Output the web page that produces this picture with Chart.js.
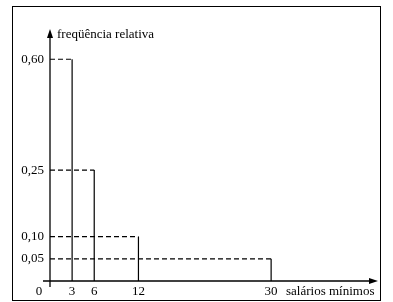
<!DOCTYPE html>
<html>
<head>
<meta charset="utf-8">
<script src="https://cdn.jsdelivr.net/npm/chart.js@4/dist/chart.umd.min.js"></script>
<style>
    html, body { margin: 0; padding: 0; background: #fff; }
    #wrap { position: relative; width: 393px; height: 302px; }
    #frame { position: absolute; left: 12px; top: 6px; width: 367px; height: 293px; border: 1px solid #000; }
    canvas { position: absolute; left: 0; top: 0; }
</style>
</head>
<body>
<div id="wrap">
    <div id="frame"></div>
    <canvas id="chart" width="393" height="302"></canvas>
</div>
<script>
// class upper limits (salários mínimos) and relative frequencies
const classLimits = [3, 6, 12, 30];
const frequencies = [0.60, 0.25, 0.10, 0.05];
const xTicks = [3, 6, 12, 30];
const yTicks = [0.05, 0.10, 0.25, 0.60];

const FONT = '"Liberation Serif", "Times New Roman", serif';

// the original figure is not to scale above 0,25 - break the axis the same way
class BrokenScale extends Chart.LinearScale {
    _frac(value) {
        const knots = this.options.knots;
        for (let i = 1; i < knots.length; i++) {
            const [v0, f0] = knots[i - 1];
            const [v1, f1] = knots[i];
            if (value <= v1 || i === knots.length - 1) {
                return f0 + (value - v0) / (v1 - v0) * (f1 - f0);
            }
        }
        return 0;
    }
    getPixelForValue(value) {
        return this.bottom - this._frac(value) * (this.bottom - this.top);
    }
    getValueForPixel(pixel) {
        const f = (this.bottom - pixel) / (this.bottom - this.top);
        const knots = this.options.knots;
        for (let i = 1; i < knots.length; i++) {
            const [v0, f0] = knots[i - 1];
            const [v1, f1] = knots[i];
            if (f <= f1 || i === knots.length - 1) {
                return v0 + (f - f0) / (f1 - f0) * (v1 - v0);
            }
        }
        return 0;
    }
}
BrokenScale.id = 'broken';
BrokenScale.defaults = Chart.LinearScale.defaults;
Chart.register(BrokenScale);

// one dataset per class: dashed top from the y axis, solid right edge down to 0
const datasets = classLimits.map((limit, i) => ({
    data: [
        { x: 0, y: frequencies[i] },
        { x: limit, y: frequencies[i] },
        { x: limit, y: 0 }
    ],
    borderColor: '#000',
    borderWidth: 1.2,
    pointRadius: 0,
    fill: false,
    tension: 0,
    segment: {
        borderDash: ctx => ctx.p0DataIndex === 0 ? [5, 3] : []
    }
}));

const axesPlugin = {
    id: 'axes',
    afterDatasetsDraw(chart) {
        const { ctx, chartArea } = chart;
        const x0 = chart.scales.x.getPixelForValue(0);
        const y0 = chart.scales.y.getPixelForValue(0);
        ctx.save();
        ctx.strokeStyle = '#000';
        ctx.fillStyle = '#000';
        ctx.lineWidth = 1.3;

        // y axis with arrow
        ctx.beginPath();
        ctx.moveTo(x0, y0 + 6);
        ctx.lineTo(x0, chartArea.top + 8);
        ctx.stroke();
        ctx.beginPath();
        ctx.moveTo(x0, chartArea.top);
        ctx.lineTo(x0 - 3, chartArea.top + 9);
        ctx.lineTo(x0 + 3, chartArea.top + 9);
        ctx.closePath();
        ctx.fill();

        // x axis with arrow
        ctx.beginPath();
        ctx.moveTo(x0 - 7, y0);
        ctx.lineTo(chartArea.right - 8, y0);
        ctx.stroke();
        ctx.beginPath();
        ctx.moveTo(chartArea.right, y0);
        ctx.lineTo(chartArea.right - 9, y0 - 3);
        ctx.lineTo(chartArea.right - 9, y0 + 3);
        ctx.closePath();
        ctx.fill();

        ctx.font = '13px ' + FONT;
        ctx.textBaseline = 'middle';
        ctx.textAlign = 'left';
        ctx.fillText('freqüência relativa', x0 + 7, chartArea.top + 6);
        ctx.fillText('salários mínimos', 286, y0 + 11);
        ctx.textAlign = 'center';
        ctx.fillText('0', x0 - 11, y0 + 11);
        ctx.restore();
    }
};

new Chart(document.getElementById('chart'), {
    type: 'line',
    data: { datasets },
    plugins: [axesPlugin],
    options: {
        responsive: false,
        animation: false,
        layout: { padding: { left: 0, top: 29, right: 15, bottom: 0 } },
        plugins: { legend: { display: false }, tooltip: { enabled: false } },
        scales: {
            x: {
                type: 'linear',
                min: 0,
                max: 44.5,
                grid: { display: false, drawTicks: false },
                border: { display: false },
                afterBuildTicks: s => { s.ticks = xTicks.map(v => ({ value: v })); },
                afterFit: s => { s.height = 21; },
                ticks: {
                    padding: 3,
                    maxRotation: 0,
                    autoSkip: false,
                    color: '#000',
                    font: { family: FONT, size: 13 }
                }
            },
            y: {
                type: 'broken',
                min: 0,
                max: 0.7,
                knots: [[0, 0], [0.25, 0.44], [0.60, 0.88], [0.70, 1]],
                grid: { display: false, drawTicks: false },
                border: { display: false },
                afterBuildTicks: s => { s.ticks = yTicks.map(v => ({ value: v })); },
                afterFit: s => { s.width = 50; },
                ticks: {
                    padding: 6,
                    autoSkip: false,
                    color: '#000',
                    font: { family: FONT, size: 13 },
                    callback: v => v.toFixed(2).replace('.', ',')
                }
            }
        }
    }
});
</script>
</body>
</html>
